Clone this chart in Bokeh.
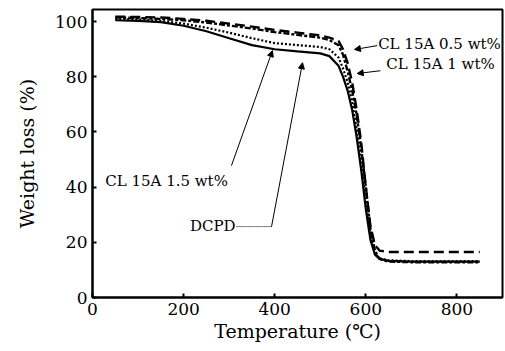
from bokeh.plotting import figure
from bokeh.models import Range1d, FixedTicker, Arrow, NormalHead, Label
from bokeh.embed import file_html
from bokeh.resources import INLINE

# ---- data ----
temp = [50, 100, 150, 200, 250, 300, 350, 400, 450, 500, 520, 540, 550, 560,
        570, 580, 590, 600, 610, 620, 630, 650, 700, 750, 800, 850]
dcpd = [100.5, 100.3, 99.8, 98.5, 96.5, 94.0, 91.5, 90.0, 89.2, 88.5, 87.5, 84.0, 80.0, 75.0,
        68.0, 58.0, 46.0, 32.0, 21.0, 15.5, 14.0, 13.3, 13.0, 13.0, 13.0, 13.0]
cl15_15 = [101.0, 100.8, 100.3, 99.3, 97.8, 96.0, 94.0, 92.2, 91.5, 90.8, 90.0, 87.0, 83.0, 78.0,
           71.0, 61.0, 49.0, 35.0, 23.0, 16.0, 14.2, 13.5, 13.2, 13.2, 13.2, 13.2]
cl15_05 = [101.8, 101.7, 101.5, 101.0, 100.3, 99.3, 98.2, 97.0, 96.0, 95.0, 94.2, 93.0, 90.0, 85.0,
           78.0, 68.0, 56.0, 40.0, 26.0, 19.0, 17.0, 16.5, 16.5, 16.5, 16.5, 16.5]
cl15_10 = [101.5, 101.3, 101.0, 100.5, 99.7, 98.6, 97.5, 96.2, 95.2, 94.2, 93.3, 91.5, 88.0, 82.0,
           75.0, 66.0, 54.0, 40.0, 25.0, 17.0, 14.0, 13.0, 12.8, 12.8, 12.8, 12.8]

x_ticks = [0, 200, 400, 600, 800]
y_ticks = [0, 20, 40, 60, 80, 100]

# annotation texts and anchor points (data units)
lbl_texts = ["CL 15A 0.5 wt%", "CL 15A 1 wt%", "CL 15A 1.5 wt%", "DCPD"]
lbl_x = [627, 645, 28, 214]
lbl_y = [92.0, 84.8, 42.4, 26.0]
arrows = [  # (x_start, y_start, x_end, y_end)
    (625, 91.3, 575, 89.9),
    (632, 82.2, 581, 81.2),
    (305, 47.8, 395, 89.5),
    (393, 25.7, 461, 85.1),
]
dcpd_leader_x = [316, 393]
dcpd_leader_y = [25.7, 25.7]

FONT = "DejaVu Serif"

p = figure(width=505, height=351, output_backend="svg", toolbar_location=None,
           x_range=Range1d(0, 900), y_range=Range1d(0, 104.4),
           min_border_left=92, min_border_right=3, min_border_top=9, min_border_bottom=54)

p.line(temp, dcpd, line_color="black", line_width=2.2)
p.line(temp, cl15_15, line_color="black", line_width=2.2, line_dash="2 2")
p.line(temp, cl15_05, line_color="black", line_width=2.4, line_dash="10 5")
p.line(temp, cl15_10, line_color="black", line_width=2.4, line_dash="6 2 3 2")

for (xs, ys, xe, ye) in arrows:
    p.add_layout(Arrow(end=NormalHead(size=6, fill_color="black", line_color="black"),
                       x_start=xs, y_start=ys, x_end=xe, y_end=ye,
                       line_color="black", line_width=1))
p.line(dcpd_leader_x, dcpd_leader_y, line_color="black", line_width=1, line_dash="1 1")

for t, x, y in zip(lbl_texts, lbl_x, lbl_y):
    p.add_layout(Label(x=x, y=y, text=t, text_font=FONT, text_font_size="15px",
                       text_baseline="middle", text_align="left", text_color="black"))

p.xgrid.visible = False
p.ygrid.visible = False
p.background_fill_color = "white"
p.border_fill_color = "white"
p.outline_line_color = "black"
p.outline_line_width = 2

for ax in (p.xaxis[0], p.yaxis[0]):
    ax.axis_line_color = "black"
    ax.axis_line_width = 2
    ax.major_tick_in = 4
    ax.major_tick_out = 0
    ax.major_tick_line_width = 2
    ax.minor_tick_line_color = None
    ax.major_label_text_font = FONT
    ax.major_label_text_font_size = "17px"
    ax.major_label_text_color = "black"
    ax.axis_label_text_font = FONT
    ax.axis_label_text_font_style = "normal"
    ax.axis_label_text_color = "black"

p.xaxis.axis_label_text_font_size = "19px"
p.yaxis.axis_label_text_font_size = "19px"
p.xaxis.ticker = FixedTicker(ticks=x_ticks)
p.yaxis.ticker = FixedTicker(ticks=y_ticks)
p.xaxis.axis_label = "Temperature (℃)"
p.yaxis.axis_label = "Weight loss (%)"
p.xaxis.major_label_standoff = 5
p.xaxis.axis_label_standoff = 2
p.yaxis.major_label_standoff = 5
p.yaxis.axis_label_standoff = 14

open("out.html", "w").write(file_html(p, INLINE))
